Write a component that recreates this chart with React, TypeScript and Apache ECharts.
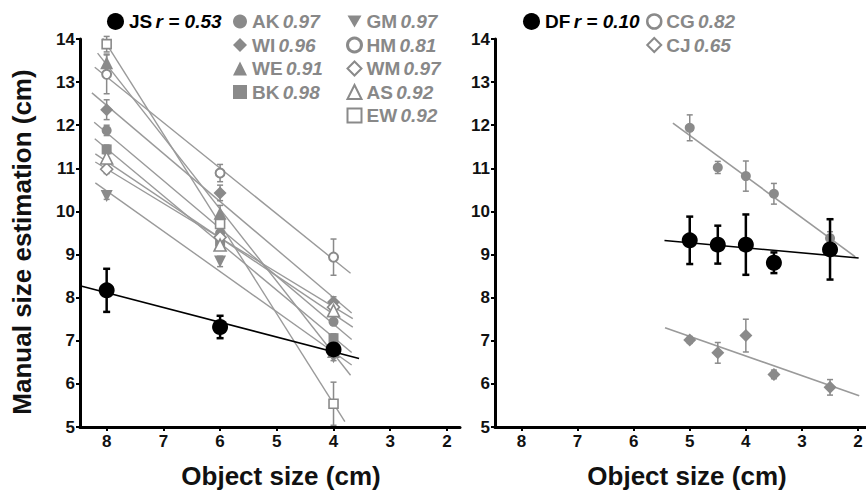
import React, { useEffect, useRef } from "react";
import * as echarts from "echarts";

// ---------- Data: left panel (object sizes 8, 6, 4 cm) ----------
const LEFT_X = [8, 6, 4];
const JS_MEAN = [8.17, 7.32, 6.8];
const JS_ERR = [0.5, 0.26, 0.1];
const JS_R = "0.53";

const LEFT_NAMES = ["AK", "WI", "WE", "BK", "GM", "HM", "WM", "AS", "EW"];
const LEFT_R = ["0.97", "0.96", "0.91", "0.98", "0.97", "0.81", "0.97", "0.92", "0.92"];
const AK_MEAN = [11.88, 9.5, 7.44];
const AK_ERR = [0.12, 0.1, 0.08];
const WI_MEAN = [12.36, 10.43, 7.9];
const WI_ERR = [0.23, 0.18, 0.12];
const WE_MEAN = [13.45, 9.96, 6.75];
const WE_ERR = [0.2, 0.18, 0.1];
const BK_MEAN = [11.44, 9.3, 7.06];
const BK_ERR = [0.1, 0.1, 0.1];
const GM_MEAN = [10.36, 8.84, 6.62];
const GM_ERR = [0.08, 0.12, 0.08];
const HM_MEAN = [13.18, 10.89, 8.94];
const HM_ERR = [0.45, 0.2, 0.42];
const WM_MEAN = [10.98, 9.4, 7.78];
const WM_ERR = [0.1, 0.1, 0.1];
const AS_MEAN = [11.24, 9.22, 7.7];
const AS_ERR = [0.1, 0.12, 0.1];
const EW_MEAN = [13.88, 9.71, 5.54];
const EW_ERR = [0.18, 0.15, 0.5];

// regression line extents (in object-size units)
const JS_FIT = [8.47, 3.55];
const LEFT_FIT_FROM = [8.22, 8.26, 8.16, 8.21, 8.2, 8.21, 8.2, 8.2, 8.1];
const LEFT_FIT_TO = [3.68, 3.68, 3.7, 3.68, 3.68, 3.7, 3.66, 3.66, 3.8];

// ---------- Data: right panel ----------
const RIGHT_X = [5, 4.5, 4, 3.5, 2.5];
const DF_MEAN = [9.33, 9.23, 9.23, 8.81, 9.12];
const DF_ERR = [0.55, 0.44, 0.7, 0.24, 0.7];
const DF_R = "0.10";
const RIGHT_NAMES = ["CG", "CJ"];
const RIGHT_R = ["0.82", "0.65"];
const CG_MEAN = [11.94, 11.02, 10.82, 10.41, 9.38];
const CG_ERR = [0.3, 0.14, 0.35, 0.24, 0.15];
const CJ_MEAN = [7.02, 6.72, 7.12, 6.22, 5.92];
const CJ_ERR = [0.08, 0.24, 0.38, 0.1, 0.18];
const DF_FIT = [5.45, 1.99];
const RIGHT_FIT = [
  [5.3, 2.05],
  [5.44, 1.98],
];

// ---------- Axis ticks ----------
const X_TICKS = [2, 3, 4, 5, 6, 7, 8];
const X_MIN = 1.77;
const X_MAX = 8.47;
const Y_MIN = 5;
const Y_MAX = 14;

// ---------- Styles ----------
const FONT = "'Liberation Sans', Arial, Helvetica, sans-serif";
const GRAY = "#8a8a8a";
const GRAY_LINE = "#9a9a9a";
const GRAY_TXT = "#888888";
const BLACK = "#000000";

const LEFT_MEANS: Record<string, number[]> = {
  AK: AK_MEAN, WI: WI_MEAN, WE: WE_MEAN, BK: BK_MEAN, GM: GM_MEAN,
  HM: HM_MEAN, WM: WM_MEAN, AS: AS_MEAN, EW: EW_MEAN,
};
const LEFT_ERRS: Record<string, number[]> = {
  AK: AK_ERR, WI: WI_ERR, WE: WE_ERR, BK: BK_ERR, GM: GM_ERR,
  HM: HM_ERR, WM: WM_ERR, AS: AS_ERR, EW: EW_ERR,
};

const DOWN_TRI = "path://M0,0 L10,0 L5,8.66 Z";
const SYMBOLS: Record<string, { symbol: string; open: boolean; size: number; bw?: number }> = {
  AK: { symbol: "circle", open: false, size: 10 },
  WI: { symbol: "diamond", open: false, size: 13 },
  WE: { symbol: "triangle", open: false, size: 13 },
  BK: { symbol: "rect", open: false, size: 10 },
  GM: { symbol: DOWN_TRI, open: false, size: 12 },
  HM: { symbol: "circle", open: true, size: 9, bw: 2 },
  WM: { symbol: "diamond", open: true, size: 12, bw: 1.6 },
  AS: { symbol: "triangle", open: true, size: 12, bw: 1.6 },
  EW: { symbol: "rect", open: true, size: 9, bw: 1.6 },
};

function fit(xs: number[], ys: number[]) {
  const n = xs.length;
  const mx = xs.reduce((a, b) => a + b, 0) / n;
  const my = ys.reduce((a, b) => a + b, 0) / n;
  let sxy = 0;
  let sxx = 0;
  for (let i = 0; i < n; i++) {
    sxy += (xs[i] - mx) * (ys[i] - my);
    sxx += (xs[i] - mx) * (xs[i] - mx);
  }
  const slope = sxy / sxx;
  return (x: number) => my + slope * (x - mx);
}

function fitSeries(name: string, xs: number[], ys: number[], range: number[], idx: number, color: string, width: number, z: number) {
  const f = fit(xs, ys);
  return {
    type: "line",
    name,
    xAxisIndex: idx,
    yAxisIndex: idx,
    data: [
      [range[0], f(range[0])],
      [range[1], f(range[1])],
    ],
    showSymbol: false,
    symbol: "none",
    lineStyle: { color, width, opacity: 1 },
    silent: true,
    z,
  };
}

function errSeries(name: string, xs: number[], ys: number[], errs: number[], idx: number, color: string, width: number, cap: number, z: number) {
  return {
    type: "custom",
    name,
    xAxisIndex: idx,
    yAxisIndex: idx,
    data: xs.map((x, i) => [x, Math.max(Y_MIN, ys[i] - errs[i]), ys[i] + errs[i]]),
    encode: { x: 0, y: [1, 2] },
    silent: true,
    z,
    renderItem: (_p: any, api: any) => {
      const lo = api.coord([api.value(0), api.value(1)]);
      const hi = api.coord([api.value(0), api.value(2)]);
      const st = { stroke: color, lineWidth: width };
      return {
        type: "group",
        children: [
          { type: "line", shape: { x1: lo[0], y1: lo[1], x2: hi[0], y2: hi[1] }, style: st },
          { type: "line", shape: { x1: lo[0] - cap, y1: lo[1], x2: lo[0] + cap, y2: lo[1] }, style: st },
          { type: "line", shape: { x1: hi[0] - cap, y1: hi[1], x2: hi[0] + cap, y2: hi[1] }, style: st },
        ],
      };
    },
  };
}

function scatterSeries(name: string, xs: number[], ys: number[], idx: number, sty: any, z: number) {
  return {
    type: "scatter",
    name,
    xAxisIndex: idx,
    yAxisIndex: idx,
    data: xs.map((x, i) => [x, ys[i]]),
    symbol: sty.symbol,
    symbolSize: sty.size,
    itemStyle: sty.open
      ? { color: "#ffffff", borderColor: GRAY, borderWidth: sty.bw || 1.6, opacity: 1 }
      : { color: sty.color || GRAY, borderWidth: 0, opacity: 1 },
    z,
  };
}

const xAxisBase = (gi: number) => ({
  type: "value",
  gridIndex: gi,
  min: X_MIN,
  max: X_MAX,
  inverse: true,
  axisLine: { show: true, onZero: false, lineStyle: { color: BLACK, width: 3 } },
  axisTick: { show: true, customValues: X_TICKS, length: 4, lineStyle: { color: BLACK, width: 2 } },
  axisLabel: { customValues: X_TICKS, fontFamily: FONT, fontSize: 17, fontWeight: "bold", color: "#111", margin: 6 },
  splitLine: { show: false },
});

const yAxisBase = (gi: number) => ({
  type: "value",
  gridIndex: gi,
  min: Y_MIN,
  max: Y_MAX,
  interval: 1,
  axisLine: { show: true, onZero: false, lineStyle: { color: BLACK, width: 3 } },
  axisTick: { show: true, length: 4, lineStyle: { color: BLACK, width: 2 } },
  axisLabel: { fontFamily: FONT, fontSize: 17, fontWeight: "bold", color: "#111", margin: 5 },
  splitLine: { show: false },
});

const grayRich = {
  n: { fontFamily: FONT, fontSize: 19, fontWeight: "bold", color: GRAY_TXT, lineHeight: 20 },
  v: { fontFamily: FONT, fontSize: 19, fontWeight: "bold", fontStyle: "italic", color: GRAY_TXT, lineHeight: 20 },
};
const blackRich = {
  n: { fontFamily: FONT, fontSize: 19, fontWeight: "bold", color: BLACK, lineHeight: 20 },
  v: { fontFamily: FONT, fontSize: 19, fontWeight: "bold", fontStyle: "italic", color: BLACK, lineHeight: 20 },
};

function legendItem(name: string) {
  const s = SYMBOLS[name];
  return {
    name,
    icon: s.symbol,
    itemStyle: s.open
      ? { color: "#ffffff", borderColor: GRAY, borderWidth: name === "HM" ? 3 : 2 }
      : { color: GRAY, borderWidth: 0 },
  };
}

export default function App() {
  const ref = useRef<HTMLDivElement>(null);

  useEffect(() => {
    if (!ref.current) return;
    const chart = echarts.init(ref.current, undefined, { renderer: "svg" });

    const leftR: Record<string, string> = {};
    LEFT_NAMES.forEach((n, i) => (leftR[n] = LEFT_R[i]));
    const rightR: Record<string, string> = {};
    RIGHT_NAMES.forEach((n, i) => (rightR[n] = RIGHT_R[i]));

    const series: any[] = [];
    LEFT_NAMES.forEach((n, i) => {
      series.push(fitSeries(n + " fit", LEFT_X, LEFT_MEANS[n], [LEFT_FIT_FROM[i], LEFT_FIT_TO[i]], 0, GRAY_LINE, 1.4, 1));
      series.push(errSeries(n + " err", LEFT_X, LEFT_MEANS[n], LEFT_ERRS[n], 0, GRAY, 1.5, 3, 2));
      series.push(scatterSeries(n, LEFT_X, LEFT_MEANS[n], 0, SYMBOLS[n], 3));
    });
    series.push(fitSeries("JS fit", LEFT_X, JS_MEAN, JS_FIT, 0, BLACK, 1.6, 4));
    series.push(errSeries("JS err", LEFT_X, JS_MEAN, JS_ERR, 0, BLACK, 2.5, 3.5, 5));
    series.push(scatterSeries("JS", LEFT_X, JS_MEAN, 0, { symbol: "circle", size: 16, color: BLACK }, 6));

    const rightMeans = [CG_MEAN, CJ_MEAN];
    const rightErrs = [CG_ERR, CJ_ERR];
    const rightSyms = ["circle", "diamond"];
    RIGHT_NAMES.forEach((n, i) => {
      series.push(fitSeries(n + " fit", RIGHT_X, rightMeans[i], RIGHT_FIT[i], 1, GRAY_LINE, 1.6, 1));
      series.push(errSeries(n + " err", RIGHT_X, rightMeans[i], rightErrs[i], 1, GRAY, 1.5, 3, 2));
      series.push(scatterSeries(n, RIGHT_X, rightMeans[i], 1, { symbol: rightSyms[i], size: i === 0 ? 10 : 13 }, 3));
    });
    series.push(fitSeries("DF fit", RIGHT_X, DF_MEAN, DF_FIT, 1, BLACK, 1.6, 4));
    series.push(errSeries("DF err", RIGHT_X, DF_MEAN, DF_ERR, 1, BLACK, 2.5, 3.5, 5));
    series.push(scatterSeries("DF", RIGHT_X, DF_MEAN, 1, { symbol: "circle", size: 16, color: BLACK }, 6));

    const legendCommon = {
      orient: "vertical",
      selectedMode: false,
      itemGap: 4.5,
      itemWidth: 14,
      itemHeight: 14,
      padding: 0,
    };

    const titleStyle = {
      fontFamily: FONT,
      fontSize: 26,
      fontWeight: "bold",
      fill: "#111",
      align: "center",
      verticalAlign: "middle",
    };

    const option: any = {
      animation: false,
      backgroundColor: "#ffffff",
      grid: [
        { left: 80, top: 39, width: 380, height: 388 },
        { left: 495, top: 39, width: 376, height: 388 },
      ],
      xAxis: [xAxisBase(0), xAxisBase(1)],
      yAxis: [yAxisBase(0), yAxisBase(1)],
      legend: [
        {
          ...legendCommon,
          left: 107,
          top: 12,
          itemWidth: 17,
          itemHeight: 17,
          data: [{ name: "JS", icon: "circle", itemStyle: { color: BLACK } }],
          formatter: () => `{n|JS} {v|r = ${JS_R}}`,
          textStyle: { rich: blackRich },
        },
        {
          ...legendCommon,
          left: 233,
          top: 12,
          data: LEFT_NAMES.slice(0, 4).map(legendItem),
          formatter: (name: string) => `{n|${name}} {v|${leftR[name]}}`,
          textStyle: { rich: grayRich },
        },
        {
          ...legendCommon,
          left: 346,
          top: 12,
          data: LEFT_NAMES.slice(4).map(legendItem),
          formatter: (name: string) => `{n|${name}} {v|${leftR[name]}}`,
          textStyle: { rich: grayRich },
        },
        {
          ...legendCommon,
          left: 523,
          top: 12,
          itemWidth: 17,
          itemHeight: 17,
          data: [{ name: "DF", icon: "circle", itemStyle: { color: BLACK } }],
          formatter: () => `{n|DF} {v|r = ${DF_R}}`,
          textStyle: { rich: blackRich },
        },
        {
          ...legendCommon,
          left: 646,
          top: 12,
          data: [
            { name: "CG", icon: "circle", itemStyle: { color: "#ffffff", borderColor: GRAY, borderWidth: 2.5 } },
            { name: "CJ", icon: "diamond", itemStyle: { color: "#ffffff", borderColor: GRAY, borderWidth: 2 } },
          ],
          formatter: (name: string) => `{n|${name}} {v|${rightR[name]}}`,
          textStyle: { rich: grayRich },
        },
      ],
      graphic: [
        { type: "text", x: 22, y: 242, rotation: Math.PI / 2, style: { text: "Manual size estimation (cm)", ...titleStyle } },
        { type: "text", x: 281, y: 476, style: { text: "Object size (cm)", ...titleStyle } },
        { type: "text", x: 687, y: 476, style: { text: "Object size (cm)", ...titleStyle } },
      ],
      series,
    };

    chart.setOption(option);
    return () => chart.dispose();
  }, []);

  return (
    <div style={{ position: "fixed", left: 0, top: 0, width: 866, height: 492, overflow: "hidden", background: "#fff" }}>
      <div ref={ref} style={{ position: "absolute", left: 0, top: 0, width: 880, height: 492 }} />
    </div>
  );
}
